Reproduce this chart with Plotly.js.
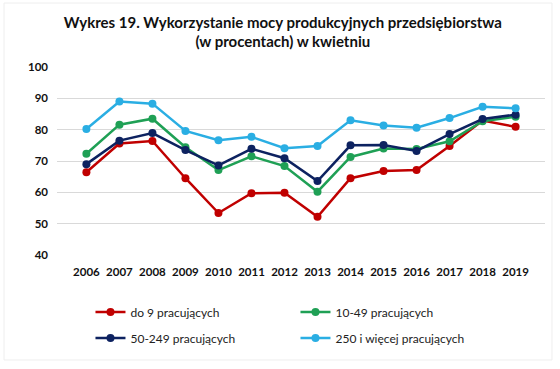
<!DOCTYPE html>
<html>
<head>
<meta charset="utf-8">
<script src="https://cdn.plot.ly/plotly-3.0.1.min.js"></script>
<style>html,body{margin:0;padding:0;background:#fff;}#chart{width:560px;height:369px;}</style>
</head>
<body>
<div id="chart"></div>
<script>
const years = ['2006','2007','2008','2009','2010','2011','2012','2013','2014','2015','2016','2017','2018','2019'];
const names = ['do 9 pracujących','10-49 pracujących','50-249 pracujących','250 i więcej pracujących'];
const small = [66.4,75.6,76.4,64.5,53.4,59.7,59.9,52.2,64.5,66.8,67.1,74.8,82.9,80.9];
const medium1 = [72.3,81.6,83.5,74.4,67.1,71.5,68.4,60.2,71.3,74.0,73.8,76.3,82.7,84.1];
const medium2 = [69.0,76.5,78.9,73.5,68.6,73.9,70.9,63.6,75.0,75.1,73.2,78.6,83.4,84.8];
const large = [80.2,89.0,88.3,79.6,76.6,77.7,74.1,74.8,83.0,81.3,80.6,83.7,87.3,86.8];
const yTicks = [40,50,60,70,80,90,100];

const colors = ['#C00000','#1FA055','#0D2260','#2AAEE3'];
const series = [small, medium1, medium2, large];
const legends = ['legend','legend','legend2','legend2'];

const traces = series.map((s,i)=>({
  x: years, y: s, name: names[i], type:'scatter', mode:'lines+markers',
  line:{color:colors[i], width:2.5},
  marker:{color:colors[i], size:8},
  legend: legends[i]
}));

const legendFont = {family:'Lato, "Open Sans", sans-serif', size:12, color:'#222'};
const tickFont = {family:'Lato, "Open Sans", sans-serif', size:11.5, color:'#111', weight:'bold'};
const layout = {
  width:560, height:369,
  margin:{l:57, r:15, t:67, b:114, autoexpand:false},
  paper_bgcolor:'#fff', plot_bgcolor:'#fff',
  title:{text:'<b>Wykres 19. Wykorzystanie mocy produkcyjnych przedsiębiorstwa<br>(w procentach) w kwietniu</b>',
    font:{family:'Lato, "Open Sans", sans-serif', size:15, color:'#111'}, x:0.505, xanchor:'center', xref:'container', y:0.925, yanchor:'top'},
  xaxis:{type:'category', showgrid:false, zeroline:false, showline:false, ticks:'', ticklabelstandoff:8, tickfont:tickFont},
  yaxis:{range:[40,100], tickvals:yTicks, showgrid:true, gridcolor:'#D9D9D9', gridwidth:1, zeroline:false, showline:false, ticks:'', ticklabelstandoff:8, tickfont:tickFont},
  showlegend:true,
  legend:{orientation:'h', x:0.0686, xanchor:'left', y:-0.303, yanchor:'middle', entrywidth:160, entrywidthmode:'pixels', font:legendFont, bgcolor:'rgba(0,0,0,0)'},
  legend2:{orientation:'h', x:0.0686, xanchor:'left', y:-0.441, yanchor:'middle', entrywidth:160, entrywidthmode:'pixels', font:legendFont, bgcolor:'rgba(0,0,0,0)'},
  shapes:[{type:'rect', xref:'paper', yref:'paper', x0:-0.1086, x1:1.0143, y0:-0.5585, y1:1.3404, line:{color:'#EEEEEE', width:1}, fillcolor:'rgba(0,0,0,0)', layer:'below'}]
};
Plotly.newPlot('chart', traces, layout, {displayModeBar:false, staticPlot:true});
</script>
</body>
</html>
